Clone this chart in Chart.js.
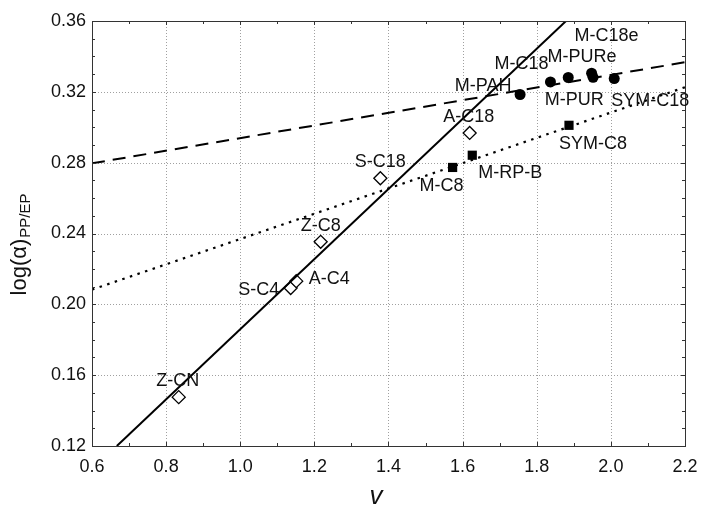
<!DOCTYPE html>
<html>
<head>
<meta charset="utf-8">
<script src="https://cdn.jsdelivr.net/npm/chart.js@4.4.1/dist/chart.umd.min.js"></script>
<style>
  html, body { margin: 0; padding: 0; background: #fff; }
  canvas { display: block; }
</style>
</head>
<body>
<canvas id="selectivityChart" width="701" height="506"></canvas>
<script>
// stationary phases, values
const diamondNames = ['Z-CN', 'S-C4', 'A-C4', 'Z-C8', 'S-C18', 'A-C18'];
const diamondV = [0.834, 1.136, 1.151, 1.217, 1.378, 1.619];
const diamondLog = [0.1476, 0.2092, 0.2131, 0.2353, 0.2712, 0.2968];

const squareNames = ['M-C8', 'M-RP-B', 'SYM-C8'];
const squareV = [1.573, 1.626, 1.887];
const squareLog = [0.2773, 0.2842, 0.3011];

const circleNames = ['M-PAH', 'M-C18', 'M-PUR', 'M-PURe', 'M-C18e', 'SYM-C18'];
const circleV = [1.755, 1.837, 1.885, 1.952, 1.948, 2.009];
const circleLog = [0.3185, 0.3256, 0.3281, 0.3282, 0.3305, 0.3275];

// regression lines, end points
const solidV = [0.667, 1.879];
const solidLog = [0.12, 0.36];
const dottedV = [0.6, 2.2];
const dottedLog = [0.2083, 0.3226];
const dashedV = [0.6, 2.2];
const dashedLog = [0.2796, 0.3367];

const xTicks = [0.6, 0.8, 1.0, 1.2, 1.4, 1.6, 1.8, 2.0, 2.2];
const yTicks = [0.12, 0.16, 0.20, 0.24, 0.28, 0.32, 0.36];

// where each label sits relative to its marker (px)
const labelShift = {
    'Z-CN': [-1, -16], 'S-C4': [-32, 2], 'A-C4': [33, -2], 'Z-C8': [0, -16],
    'S-C18': [0, -16], 'A-C18': [-1, -16],
    'M-C8': [-11, 19], 'M-RP-B': [38, 18], 'SYM-C8': [24, 19],
    'M-PAH': [-37, -8], 'M-C18': [-29, -18], 'M-PUR': [6, 23],
    'M-PURe': [-11, -20], 'M-C18e': [15, -37], 'SYM-C18': [36, 22]
};

const FONT = '"Liberation Sans", Arial, sans-serif';

function pts(xs, ys) {
    return xs.map((x, i) => ({ x: x, y: ys[i] }));
}

const decorations = {
    id: 'decorations',
    beforeDatasetsDraw(chart) {
        const ctx = chart.ctx;
        const xs = chart.scales.x, ys = chart.scales.y;
        const a = chart.chartArea;
        ctx.save();
        ctx.strokeStyle = '#a0a0a0';
        ctx.lineWidth = 1;
        ctx.setLineDash([1, 2]);
        xTicks.slice(1, -1).forEach(v => {
            const px = Math.round(xs.getPixelForValue(v)) + 0.5;
            ctx.beginPath(); ctx.moveTo(px, a.top); ctx.lineTo(px, a.bottom); ctx.stroke();
        });
        yTicks.slice(1, -1).forEach(v => {
            const py = Math.round(ys.getPixelForValue(v)) + 0.5;
            ctx.beginPath(); ctx.moveTo(a.left, py); ctx.lineTo(a.right, py); ctx.stroke();
        });
        ctx.restore();
    },
    afterDatasetsDraw(chart) {
        const ctx = chart.ctx;
        const xs = chart.scales.x, ys = chart.scales.y;
        const a = chart.chartArea;
        ctx.save();

        // frame
        ctx.strokeStyle = '#333';
        ctx.lineWidth = 1;
        ctx.setLineDash([]);
        ctx.strokeRect(Math.round(a.left) + 0.5, Math.round(a.top) + 0.5,
            Math.round(a.right - a.left), Math.round(a.bottom - a.top));

        // inward ticks, minor steps 0.1 and 0.01
        ctx.beginPath();
        for (let k = 6; k <= 22; k++) {
            const px = Math.round(xs.getPixelForValue(k / 10)) + 0.5;
            const len = k % 2 === 0 ? 4 : 3;
            ctx.moveTo(px, a.bottom); ctx.lineTo(px, a.bottom - len);
            ctx.moveTo(px, a.top); ctx.lineTo(px, a.top + len);
        }
        for (let k = 12; k <= 36; k++) {
            const py = Math.round(ys.getPixelForValue(k / 100)) + 0.5;
            const len = k % 4 === 0 ? 4 : 3;
            ctx.moveTo(a.left, py); ctx.lineTo(a.left + len, py);
            ctx.moveTo(a.right, py); ctx.lineTo(a.right - len, py);
        }
        ctx.stroke();

        // point labels
        ctx.fillStyle = '#111';
        ctx.font = '18px ' + FONT;
        ctx.textAlign = 'center';
        ctx.textBaseline = 'middle';
        chart.data.datasets.forEach((ds, i) => {
            if (!ds.names) return;
            chart.getDatasetMeta(i).data.forEach((el, j) => {
                const name = ds.names[j];
                const s = labelShift[name] || [0, -16];
                ctx.fillText(name, el.x + s[0], el.y + s[1]);
            });
        });

        // axis titles
        ctx.font = 'italic 26px ' + FONT;
        ctx.textBaseline = 'alphabetic';
        ctx.fillText('v', 376, 504);

        ctx.translate(26, 245);
        ctx.rotate(-Math.PI / 2);
        ctx.font = '22px ' + FONT;
        const main = 'log(\u03b1)';
        const sub = 'PP/EP';
        const wMain = ctx.measureText(main).width;
        ctx.font = '15px ' + FONT;
        const wSub = ctx.measureText(sub).width;
        const start = -(wMain + wSub) / 2;
        ctx.textAlign = 'left';
        ctx.font = '22px ' + FONT;
        ctx.fillText(main, start, 0);
        ctx.font = '15px ' + FONT;
        ctx.fillText(sub, start + wMain + 1, 4);
        ctx.restore();
    }
};

const ctx = document.getElementById('selectivityChart').getContext('2d');
const chart = new Chart(ctx, {
    type: 'scatter',
    data: {
        datasets: [
            {
                type: 'line', data: pts(solidV, solidLog),
                borderColor: '#000', borderWidth: 2, pointRadius: 0, fill: false
            },
            {
                type: 'line', data: pts(dottedV, dottedLog),
                borderColor: '#000', borderWidth: 2.2, borderDash: [2.5, 5.5], pointRadius: 0, fill: false
            },
            {
                type: 'line', data: pts(dashedV, dashedLog),
                borderColor: '#000', borderWidth: 2, borderDash: [13, 8], pointRadius: 0, fill: false
            },
            {
                names: diamondNames, data: pts(diamondV, diamondLog),
                pointStyle: 'rectRot', pointRadius: 6.5, pointBorderWidth: 1.3,
                borderColor: '#000', backgroundColor: '#fff'
            },
            {
                names: squareNames, data: pts(squareV, squareLog),
                pointStyle: 'rect', pointRadius: 6.5, pointBorderWidth: 0,
                borderColor: '#000', backgroundColor: '#000'
            },
            {
                names: circleNames, data: pts(circleV, circleLog),
                pointStyle: 'circle', pointRadius: 5.5, pointBorderWidth: 0,
                borderColor: '#000', backgroundColor: '#000'
            }
        ]
    },
    options: {
        responsive: false,
        animation: false,
        layout: { padding: { top: 21, right: 16, left: 0, bottom: 0 } },
        plugins: { legend: { display: false }, tooltip: { enabled: false } },
        scales: {
            x: {
                type: 'linear', min: 0.6, max: 2.2,
                grid: { display: false, drawTicks: false },
                border: { display: false },
                afterBuildTicks: s => { s.ticks = xTicks.map(v => ({ value: v })); },
                afterFit: s => { s.height = 60; s.paddingLeft = 0; s.paddingRight = 0; },
                ticks: {
                    padding: 10, color: '#111', maxRotation: 0, autoSkip: false,
                    font: { family: FONT, size: 18 },
                    callback: v => v.toFixed(1)
                }
            },
            y: {
                type: 'linear', min: 0.12, max: 0.36,
                grid: { display: false, drawTicks: false },
                border: { display: false },
                afterBuildTicks: s => { s.ticks = yTicks.map(v => ({ value: v })); },
                afterFit: s => { s.width = 92; s.paddingTop = 0; s.paddingBottom = 0; },
                ticks: {
                    padding: 6, color: '#111', autoSkip: false,
                    font: { family: FONT, size: 18 },
                    callback: v => v.toFixed(2)
                }
            }
        }
    },
    plugins: [decorations]
});
</script>
</body>
</html>
